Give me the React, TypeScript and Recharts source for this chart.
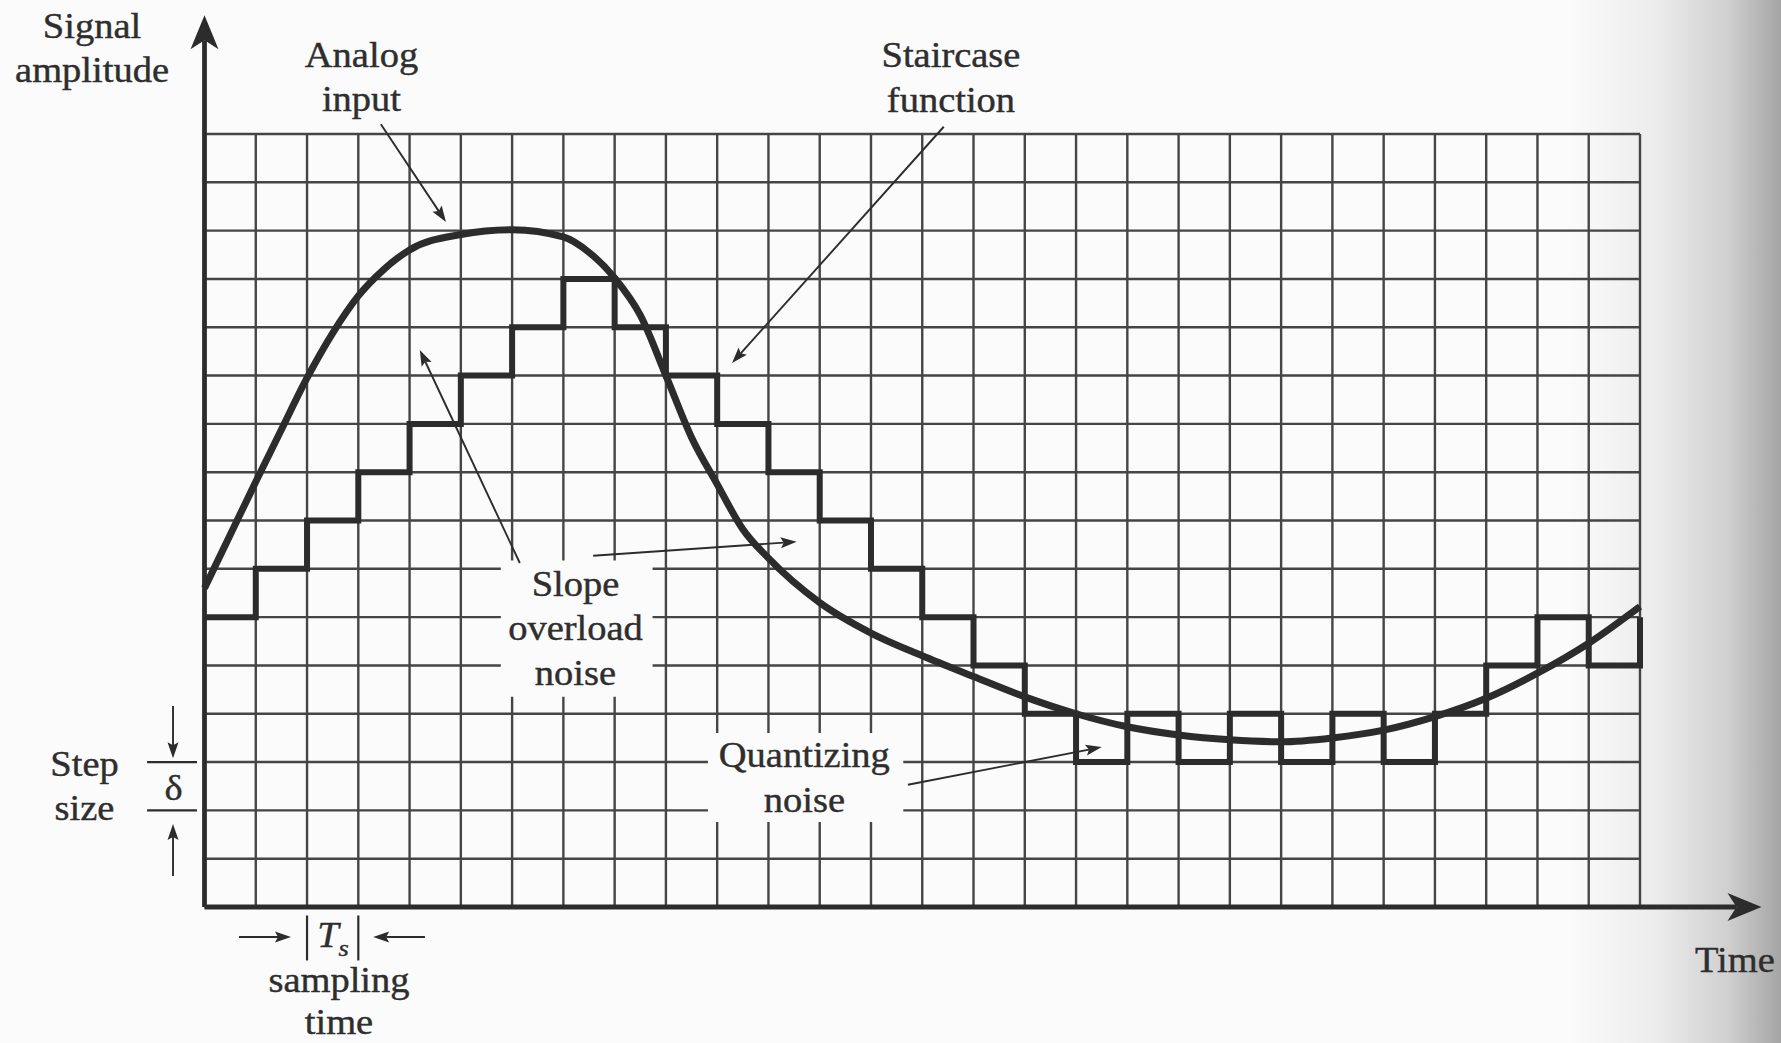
import React from 'react';
import {
  ComposedChart,
  Line,
  XAxis,
  YAxis,
  CartesianGrid,
  ReferenceLine,
  ReferenceDot,
  ReferenceArea,
} from 'recharts';

if (typeof document !== 'undefined') {
  document.body.style.margin = '0';
}

// ---------- data ----------
const timeTicks = [0, 1, 2, 3, 4, 5, 6, 7, 8, 9, 10, 11, 12, 13, 14, 15, 16, 17, 18, 19, 20, 21, 22, 23, 24, 25, 26, 27, 28];
const amplitudeTicks = [0, 1, 2, 3, 4, 5, 6, 7, 8, 9, 10, 11, 12, 13, 14, 15, 16];

const stepTimes = [0, 1, 2, 3, 4, 5, 6, 7, 8, 9, 10, 11, 12, 13, 14, 15, 16, 17, 18, 19, 20, 21, 22, 23, 24, 25, 26, 27, 28];
const stepLevels = [6, 7, 8, 9, 10, 11, 12, 13, 12, 11, 10, 9, 8, 7, 6, 5, 4, 3, 4, 3, 4, 3, 4, 3, 4, 5, 6, 5, 6];

const analogTimes = [0, 0.5, 1, 1.5, 2, 2.5, 3, 3.5, 4, 5, 6, 7, 7.5, 8, 8.5, 9, 9.5, 10, 10.5, 11, 12, 13, 14, 15, 16, 17, 18, 19, 20, 21, 22, 23, 24, 25, 26, 27, 28];
const analogLevels = [6.6, 7.7, 8.8, 9.88, 10.95, 11.88, 12.65, 13.2, 13.6, 13.92, 14.02, 13.87, 13.55, 13.02, 12.25, 11.0, 9.72, 8.75, 7.82, 7.22, 6.3, 5.67, 5.2, 4.77, 4.35, 4.0, 3.73, 3.56, 3.46, 3.42, 3.5, 3.66, 3.94, 4.32, 4.84, 5.46, 6.22];

const stepData = stepTimes.map((t, i) => ({ t, level: stepLevels[i] }));
const analogData = analogTimes.map((t, i) => ({ t, level: analogLevels[i] }));

// ---------- annotations (data coordinates) ----------
const labels = [
  { x: -2.194, y: 17.99, lines: ['Signal', 'amplitude'], gap: 44 },
  { x: 3.062, y: 17.39, lines: ['Analog', 'input'], gap: 44 },
  { x: 14.56, y: 17.39, lines: ['Staircase', 'function'], gap: 45 },
  { x: 7.236, y: 6.44, lines: ['Slope', 'overload', 'noise'], gap: 44.5 },
  { x: 11.7, y: 2.9, lines: ['Quantizing', 'noise'], gap: 45 },
  { x: -2.34, y: 2.71, lines: ['Step', 'size'], gap: 44 },
  { x: -0.605, y: 2.215, lines: ['δ'], gap: 0 },
  { x: 2.623, y: -1.76, lines: ['sampling', 'time'], gap: 42 },
  { x: 29.85, y: -1.345, lines: ['Time'], gap: 0 },
];

const knockouts = [
  { x1: 5.78, x2: 8.74, y1: 4.35, y2: 7.17 },
  { x1: 9.82, x2: 13.63, y1: 1.76, y2: 3.6 },
];

type Seg = { x1: number; y1: number; x2: number; y2: number; kind: 'thin' | 'axis' | 'bar' };
const segments: Seg[] = [
  { x1: 0, y1: 0, x2: 0, y2: 18.46, kind: 'axis' },
  { x1: 0, y1: 0, x2: 30.37, y2: 0, kind: 'axis' },
  { x1: 3.44, y1: 16.2, x2: 4.71, y2: 14.18, kind: 'thin' },
  { x1: 14.42, y1: 16.15, x2: 10.29, y2: 11.26, kind: 'thin' },
  { x1: 6.15, y1: 7.12, x2: 4.2, y2: 11.53, kind: 'thin' },
  { x1: 7.58, y1: 7.27, x2: 11.55, y2: 7.56, kind: 'thin' },
  { x1: 13.72, y1: 2.53, x2: 17.5, y2: 3.31, kind: 'thin' },
  { x1: -0.614, y1: 4.16, x2: -0.614, y2: 3.08, kind: 'thin' },
  { x1: -0.614, y1: 0.64, x2: -0.614, y2: 1.72, kind: 'thin' },
  { x1: 0.673, y1: -0.62, x2: 1.687, y2: -0.62, kind: 'thin' },
  { x1: 4.3, y1: -0.62, x2: 3.29, y2: -0.62, kind: 'thin' },
  { x1: -1.12, y1: 3, x2: -0.146, y2: 3, kind: 'bar' },
  { x1: -1.12, y1: 2, x2: -0.146, y2: 2, kind: 'bar' },
  { x1: 2, y1: -0.176, x2: 2, y2: -1.107, kind: 'bar' },
  { x1: 3, y1: -0.176, x2: 3, y2: -1.107, kind: 'bar' },
];

// ---------- styling ----------
const INK = '#2c2c2c';
const GRID = '#454545';
const TEXT = '#2e2e2e';
const PAPER = '#fbfbfb';
const FONT = '"Liberation Serif", "Times New Roman", serif';
const FS = 35;
const STRETCH = 1.1;

const arrowShape = (kind: Seg['kind']) => (p: any) => {
  const x1 = Number(p.x1), y1 = Number(p.y1), x2 = Number(p.x2), y2 = Number(p.y2);
  const dx = x2 - x1, dy = y2 - y1;
  const len = Math.hypot(dx, dy) || 1;
  const ux = dx / len, uy = dy / len;
  const nx = -uy, ny = ux;
  if (kind === 'bar') {
    return <line x1={x1} y1={y1} x2={x2} y2={y2} stroke={INK} strokeWidth={2.2} />;
  }
  const head = kind === 'axis' ? 34 : 16;
  const half = kind === 'axis' ? 14 : 5.5;
  const notch = kind === 'axis' ? 9 : 3;
  const width = kind === 'axis' ? 4.8 : 1.9;
  const bx = x2 - ux * head, by = y2 - uy * head;
  const mx = x2 - ux * (head - notch), my = y2 - uy * (head - notch);
  const pts = [
    [x2, y2],
    [bx + nx * half, by + ny * half],
    [mx, my],
    [bx - nx * half, by - ny * half],
  ]
    .map((q) => q.join(','))
    .join(' ');
  return (
    <g>
      <line x1={x1} y1={y1} x2={mx} y2={my} stroke={INK} strokeWidth={width} strokeLinecap="butt" />
      <polygon points={pts} fill={INK} stroke="none" />
    </g>
  );
};

const labelShape = (lines: string[], gap: number) => (p: any) => (
  <text
    transform={`translate(${p.cx},${p.cy}) scale(${STRETCH},1)`}
    textAnchor="middle"
    fontFamily={FONT}
    fontSize={FS}
    fill={TEXT}
    stroke={TEXT}
    strokeWidth={0.4}
  >
    {lines.map((s, i) => (
      <tspan key={i} x={0} y={i * gap}>
        {s}
      </tspan>
    ))}
  </text>
);

const tsShape = (p: any) => (
  <text
    transform={`translate(${p.cx},${p.cy}) scale(${STRETCH},1)`}
    textAnchor="middle"
    fontFamily={FONT}
    fontSize={FS}
    fill={TEXT}
    stroke={TEXT}
    strokeWidth={0.4}
    fontStyle="italic"
  >
    <tspan>T</tspan>
    <tspan fontSize={24} dy={9}>s</tspan>
  </text>
);

export default function App() {
  return (
    <div
      style={{
        width: 1781,
        height: 1043,
        background: `linear-gradient(to right, ${PAPER} 0%, ${PAPER} 88%, #ececec 93%, #d0d0d0 97%, #a4a4a4 100%)`,
        overflow: 'hidden',
      }}
    >
      <ComposedChart width={1781} height={1043} margin={{ top: 134, right: 141, bottom: 136, left: 204.5 }}>
        <XAxis type="number" dataKey="t" domain={[0, 28]} ticks={timeTicks} interval={0} hide />
        <YAxis type="number" domain={[0, 16]} ticks={amplitudeTicks} interval={0} hide />
        <CartesianGrid
          stroke={GRID}
          strokeWidth={2.4}
          horizontalValues={amplitudeTicks}
          verticalValues={timeTicks}
          fill="none"
        />
        {knockouts.map((k, i) => (
          <ReferenceArea
            key={`k${i}`}
            x1={k.x1}
            x2={k.x2}
            y1={k.y1}
            y2={k.y2}
            fill={PAPER}
            fillOpacity={1}
            stroke="none"
            ifOverflow="visible"
          />
        ))}
        <Line
          data={analogData}
          dataKey="level"
          type="monotone"
          stroke={INK}
          strokeWidth={7}
          dot={false}
          activeDot={false}
          isAnimationActive={false}
        />
        <Line
          data={stepData}
          dataKey="level"
          type="stepAfter"
          stroke={INK}
          strokeWidth={6}
          strokeLinejoin="miter"
          dot={false}
          activeDot={false}
          isAnimationActive={false}
        />
        {segments.map((s, i) => (
          <ReferenceLine
            key={`s${i}`}
            segment={[
              { x: s.x1, y: s.y1 },
              { x: s.x2, y: s.y2 },
            ]}
            ifOverflow="visible"
            stroke={INK}
            shape={arrowShape(s.kind)}
          />
        ))}
        {labels.map((l, i) => (
          <ReferenceDot
            key={`l${i}`}
            x={l.x}
            y={l.y}
            r={0}
            ifOverflow="visible"
            shape={labelShape(l.lines, l.gap)}
          />
        ))}
        <ReferenceDot x={2.506} y={-0.828} r={0} ifOverflow="visible" shape={tsShape} />
      </ComposedChart>
    </div>
  );
}
